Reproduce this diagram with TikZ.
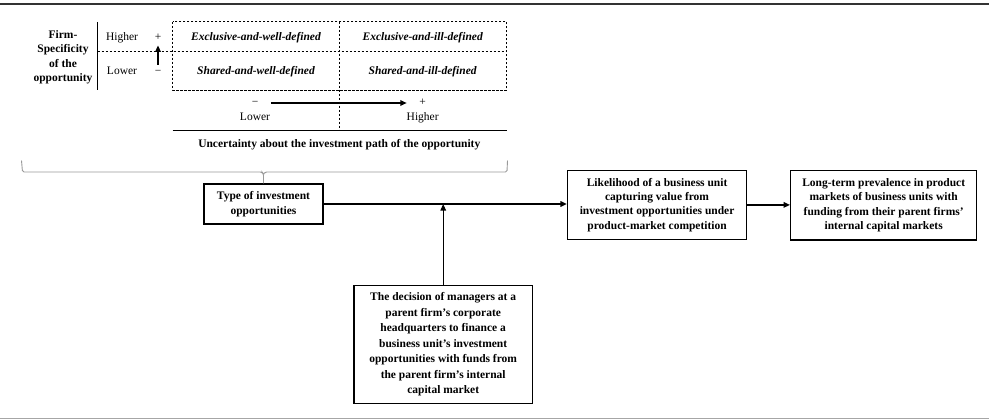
\documentclass[tikz,border=0pt]{standalone}
\usepackage{fontspec}
\setmainfont{Liberation Serif}
\usetikzlibrary{arrows.meta}
\tikzset{
  lbl/.style={inner sep=1pt, font=\fontsize{11.5}{14}\selectfont, text height=7pt, text depth=2pt},
  cell/.style={lbl, font=\fontsize{11.5}{14}\selectfont\bfseries\itshape},
  box/.style={draw, line width=1.3pt, fill=white, align=center, inner sep=0pt},
  tbl/.style={line width=0.8pt, dash pattern=on 2.5pt off 1.5pt},
  arr/.style={-{Triangle[length=6.5pt,width=5.5pt]}},
  brace/.style={draw=black!40, line width=0.9pt, rounded corners=1.5pt}
}
\begin{document}
\begin{tikzpicture}[x=1pt,y=-1pt]
\useasboundingbox (0,0) rectangle (989,420);
% rules
\draw[line width=1.5pt, black!80] (0,4) -- (989,4);
\draw[line width=1.2pt, black!35] (0,418.5) -- (989,418.5);
% table
\draw[tbl] (172.7,21.7) rectangle (506.7,90);
\draw[tbl] (97.7,51.7) -- (506.7,51.7);
\draw[tbl] (339.3,21.7) -- (339.3,130);
\draw[line width=0.9pt] (97.7,22) -- (97.7,90);
\draw[line width=0.9pt] (172.7,130) -- (506.7,130);
\node[align=center, font=\fontsize{11.5}{14.5}\selectfont\bfseries] (firm) at (63,57.5) {Firm-\\Specificity\\of the\\opportunity};
\node[lbl] (hi) at (122,37.7) {Higher};
\node[lbl] (lo) at (122,71.7) {Lower};
\node[lbl] (plus) at (158,37.7) {+};
\node[lbl] (minus) at (158,71.7) {\char"2212};
\draw[arr, line width=1.8pt, shorten >=2pt, shorten <=1pt] (minus.north) -- (plus.south);
\node[cell] (ewd) at (256,37.7) {Exclusive-and-well-defined};
\node[cell] (eid) at (422.7,37.7) {Exclusive-and-ill-defined};
\node[cell] (swd) at (256,71.7) {Shared-and-well-defined};
\node[cell] (sid) at (422.7,71.7) {Shared-and-ill-defined};
\node[lbl] (minus2) at (255,103) {\char"2212};
\node[lbl] (plus2) at (422.7,103) {+};
\draw[arr, line width=1.8pt, shorten >=11.5pt, shorten <=11.5pt] (minus2.east) -- (plus2.west);
\node[lbl] (lower) at (255,118.3) {Lower};
\node[lbl] (higher) at (422.7,118.3) {Higher};
\node[lbl, font=\fontsize{11.5}{14}\selectfont\bfseries] (unc) at (339.3,145) {Uncertainty about the investment path of the opportunity};
% boxes
\node[box, minimum width=119pt, minimum height=40pt, font=\fontsize{11.5}{15.5}\selectfont\bfseries] (type) at (263.5,204) {Type of investment\\opportunities};
\node[box, minimum width=179pt, minimum height=68.5pt, font=\fontsize{11.5}{14.3}\selectfont\bfseries] (like) at (657.1,204.9) {Likelihood of a business unit\\capturing value from\\investment opportunities under\\product-market competition};
\node[box, minimum width=186pt, minimum height=69.3pt, font=\fontsize{11.5}{14.3}\selectfont\bfseries] (long) at (883.7,205.3) {Long-term prevalence in product\\markets of business units with\\funding from their parent firms'\\internal capital markets};
\node[box, minimum width=178.3pt, minimum height=117.6pt, font=\fontsize{11.5}{15.5}\selectfont\bfseries] (dec) at (443.2,344.5) {The decision of managers at a\\parent firm's corporate\\headquarters to finance a\\business unit's investment\\opportunities with funds from\\the parent firm's internal\\capital market};
% brace
\draw[brace] (21.5,160.5) -- (22.5,172) -- (262,172) -- (263.5,174) -- (type.north);
\draw[brace] (263.5,174) -- (265,172) -- (507,172) -- (507.5,160.5);
% connectors
\draw[arr, line width=1.8pt] (type.east) -- (type.east -| like.west);
\draw[arr, line width=1.8pt] (like.east) -- (like.east -| long.west);
\draw[arr, line width=1.1pt] (dec.north) -- (dec.north |- type.east);
\end{tikzpicture}
\end{document}
